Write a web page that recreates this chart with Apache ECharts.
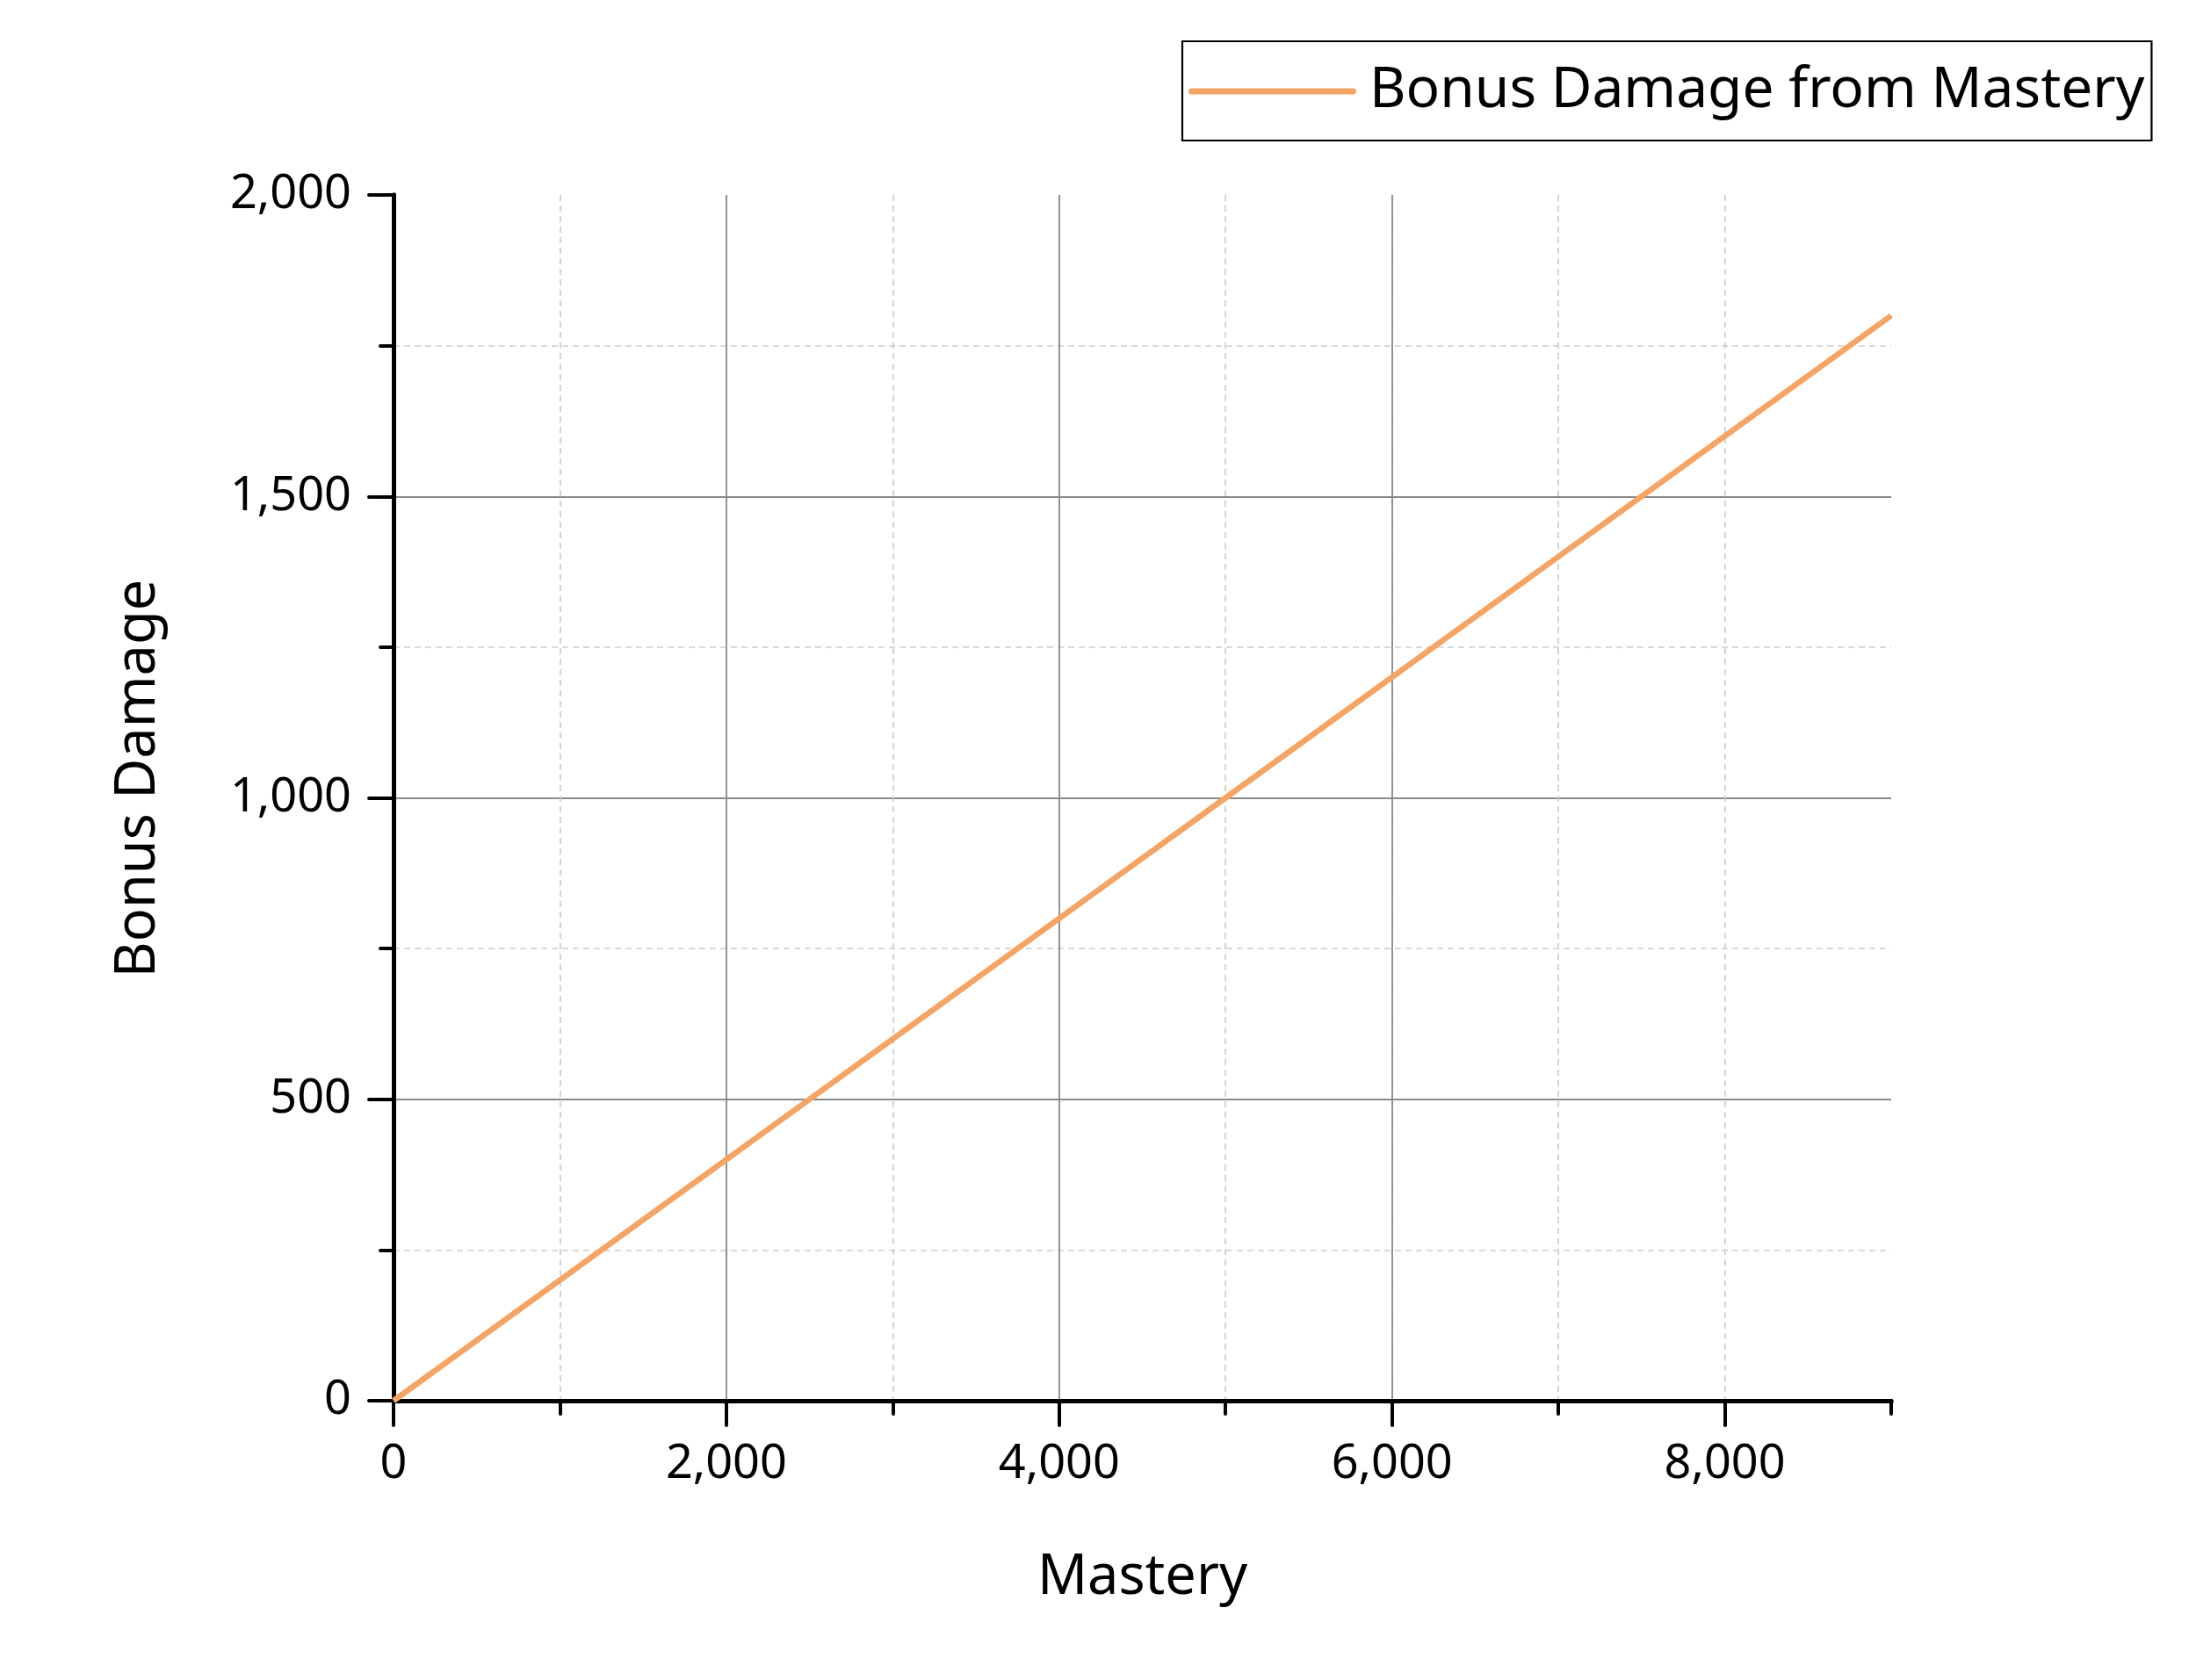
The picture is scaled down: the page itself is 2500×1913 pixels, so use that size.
<!DOCTYPE html>
<html>
<head>
<meta charset="utf-8">
<script src="https://cdn.jsdelivr.net/npm/echarts@6/dist/echarts.min.js"></script>
<style>html,body{margin:0;padding:0;background:#fff;}#c{width:2500px;height:1913px;}</style>
</head>
<body>
<div id="c"></div>
<script>
// ---- data ----
const masteryValues = [0, 1000, 2000, 3000, 4000, 5000, 6000, 7000, 8000, 9000];
const bonusDamage   = [0, 200, 400, 600, 800, 1000, 1200, 1400, 1600, 1800];
const xTickLabels = [0, 2000, 4000, 6000, 8000];
const yTickLabels = [0, 500, 1000, 1500, 2000];
const seriesName = 'Bonus Damage from Mastery';
const xTitle = 'Mastery';
const yTitle = 'Bonus Damage';

const FONT = 'Noto Sans';
const LINE_COLOR = '#F5A463';
const fmt = v => Number(v).toLocaleString('en-US');

const chart = echarts.init(document.getElementById('c'), null, {renderer: 'canvas'});
const axisLineStyle = {color: '#000', width: 5, cap: 'round'};
const tickStyle = {color: '#000', width: 4, cap: 'round'};
const minorGrid = {color: '#cdcdcd', width: 1.7, type: [7, 5]};
const majorGrid = {color: '#8a8a8a', width: 1.8};

const option = {
  backgroundColor: '#fff',
  animation: false,
  grid: {left: 448, right: 347, top: 222, bottom: 318, containLabel: false},
  legend: {
    left: 1346, top: 47,
    padding: [25, 8, 24, 7],
    itemWidth: 191, itemHeight: 7,
    icon: 'path://M3.5,0 L187.5,0 A3.5,3.5 0 0 1 187.5,7 L3.5,7 A3.5,3.5 0 0 1 3.5,0 Z',
    borderColor: '#000', borderWidth: 2.2,
    textStyle: {fontFamily: FONT, fontSize: 64, color: '#000', padding: [0, 0, 0, 10]},
    data: [seriesName]
  },
  xAxis: [
    { // minor grid / ticks
      type: 'value', position: 'bottom', min: 0, max: 9000, interval: 1000,
      axisLine: {show: true, onZero: false, lineStyle: axisLineStyle},
      axisTick: {show: true, inside: false, length: 15, lineStyle: tickStyle},
      axisLabel: {show: false},
      splitLine: {show: true, showMinLine: false, showMaxLine: false, lineStyle: minorGrid}
    },
    { // major grid / ticks / labels
      type: 'value', position: 'bottom', min: 0, max: 9000, interval: 2000,
      name: xTitle, nameLocation: 'middle', nameGap: 171,
      nameTextStyle: {fontFamily: FONT, fontSize: 63, color: '#000'},
      axisLine: {show: true, onZero: false, lineStyle: axisLineStyle},
      axisTick: {show: true, inside: false, length: 28, customValues: xTickLabels, lineStyle: tickStyle},
      axisLabel: {show: true, margin: 46, customValues: xTickLabels, fontFamily: FONT, fontSize: 54, color: '#000',
                  formatter: v => (v % 2000 === 0 ? fmt(v) : '')},
      splitLine: {show: true, showMinLine: false, showMaxLine: false, lineStyle: majorGrid}
    }
  ],
  yAxis: [
    {
      type: 'value', position: 'left', min: 0, max: 2000, interval: 250,
      axisLine: {show: true, onZero: false, lineStyle: axisLineStyle},
      axisTick: {show: true, inside: false, length: 15, lineStyle: tickStyle},
      axisLabel: {show: false},
      splitLine: {show: true, showMinLine: false, showMaxLine: false, lineStyle: minorGrid}
    },
    {
      type: 'value', position: 'left', min: 0, max: 2000, interval: 500,
      name: yTitle, nameLocation: 'middle', nameGap: 258, nameRotate: 90,
      nameTextStyle: {fontFamily: FONT, fontSize: 63, color: '#000', padding: [0, 0, 0, 44]},
      axisLine: {show: true, onZero: false, lineStyle: axisLineStyle},
      axisTick: {show: true, inside: false, length: 28, customValues: yTickLabels, lineStyle: tickStyle},
      axisLabel: {show: true, margin: 48, customValues: yTickLabels, fontFamily: FONT, fontSize: 54, color: '#000', formatter: v => fmt(v)},
      splitLine: {show: true, showMinLine: false, showMaxLine: false, lineStyle: majorGrid}
    }
  ],
  series: [{
    name: seriesName,
    type: 'line',
    xAxisIndex: 1, yAxisIndex: 1,
    data: masteryValues.map((m, i) => [m, bonusDamage[i]]),
    symbol: 'none',
    lineStyle: {color: LINE_COLOR, width: 6.5},
    itemStyle: {color: LINE_COLOR},
    z: 5
  }]
};
chart.setOption(option);
</script>
</body>
</html>
